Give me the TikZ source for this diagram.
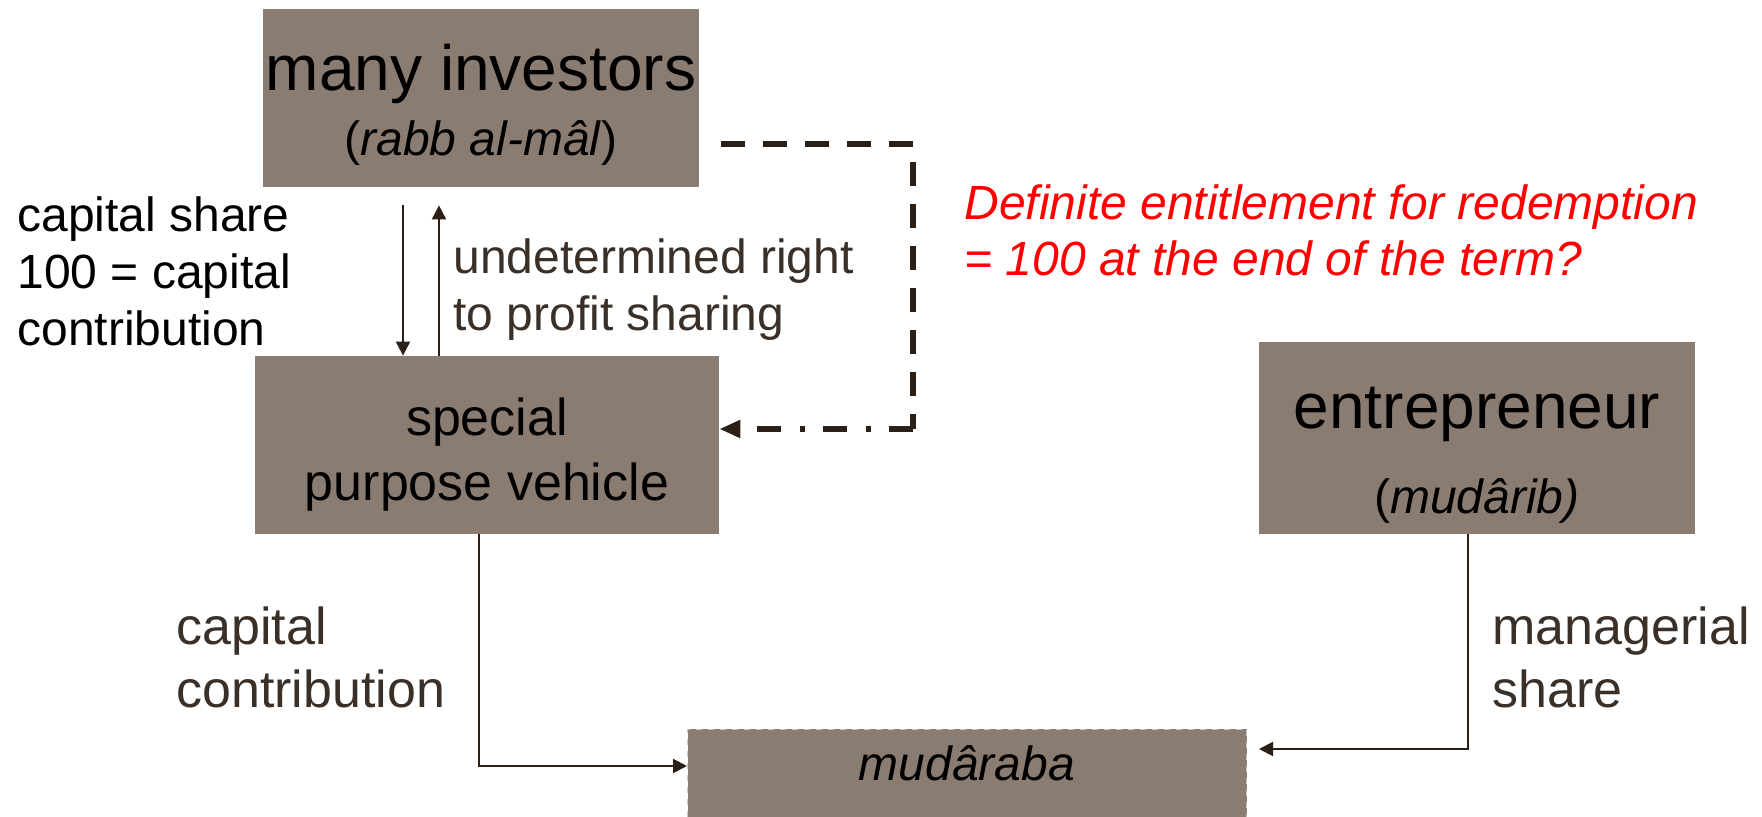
\documentclass[tikz,border=0pt]{standalone}
\usepackage{fontspec}
\setmainfont{Liberation Sans}
\usetikzlibrary{arrows.meta}
\definecolor{hopnau}{RGB}{139,124,113}
\definecolor{netdam}{RGB}{43,31,22}
\definecolor{chunau}{RGB}{58,48,40}
\definecolor{vienmo}{RGB}{205,198,192}

\begin{document}
\begin{tikzpicture}[x=0.5pt,y=-0.5pt,
		hop/.style={fill=hopnau,inner sep=0pt,align=center,text=black},
		muiten/.style={draw=netdam,line width=1pt,-{Triangle[length=7pt,width=7pt]}},
		netdut/.style={draw=netdam,line width=3pt,dash pattern=on 12pt off 9pt},
		chamgach/.style={draw=netdam,line width=3pt,dash pattern=on 12pt off 9pt on 2.5pt off 9.5pt,-{Triangle[length=10.5pt,width=8.5pt]}},
		nhan/.style={anchor=west,align=left,inner sep=0pt,font=\fontsize{24}{28.5}\selectfont},
		nhanlon/.style={anchor=west,align=left,inner sep=0pt,font=\fontsize{26}{31.5}\selectfont,text=chunau}]
	\useasboundingbox (0,0) rectangle (1762,817);
			\node[hop,minimum width=218pt,minimum height=89pt,font=\fontsize{32}{32.5}\selectfont] (investors) at (481,98) {\rule{0pt}{30pt}many investors\\{\fontsize{24}{32.5}\selectfont(\textit{rabb al-mâl})}};
			\node[hop,minimum width=232pt,minimum height=89pt,font=\fontsize{26}{32.5}\selectfont] (spv) at (487,445) {\rule{0pt}{28pt}special\\purpose vehicle};
			\node[hop,minimum width=218pt,minimum height=96pt,font=\fontsize{32}{42.8}\selectfont] (entrepreneur) at (1477,438) {\rule{0pt}{38pt}entrepreneur\\{\fontsize{24}{42.8}\selectfont(\textit{mudârib)}}};
			\node[hop,draw=vienmo,dashed,line width=0.5pt,minimum width=279.5pt,minimum height=48pt,text depth=13.5pt,font=\fontsize{24}{29}\selectfont\itshape] (mudaraba) at (967,777) {mudâraba};
			\node[nhan] (capshare) at (17,271) {capital share\\100 = capital\\contribution};
			\node[nhan,text=chunau] (profitright) at (453,290) {undetermined right\\to profit sharing};
			\node[nhan,text=red,font=\fontsize{24}{28}\selectfont\itshape] (redemption) at (964,230) {Definite entitlement for redemption\\= 100 at the end of the term?};
			\node[nhanlon] (capcontrib) at (176,657) {capital\\contribution};
			\node[nhanlon] (mgrshare) at (1492,657) {managerial\\share};
			\draw[muiten,shorten <=9pt] ([xshift=-39pt]investors.south) -- ([xshift=-39pt]investors.south |- spv.north);
			\draw[muiten,shorten >=9pt] ([xshift=-24pt]spv.north) -- ([xshift=-24pt]spv.north |- investors.south);
			\coordinate (dstart) at (721,144);
			\coordinate (dcorner) at (913,429);
			\draw[netdut] (dstart) -| (dcorner);
			\draw[chamgach] (dcorner) -- (spv.east |- dcorner);
			\draw[muiten] ([xshift=-4pt]spv.south) |- ([yshift=5.5pt]mudaraba.west);
			\draw[muiten] ([xshift=-4.5pt]entrepreneur.south) |- ([xshift=6pt,yshift=14pt]mudaraba.east);
		\end{tikzpicture}
\end{document}
